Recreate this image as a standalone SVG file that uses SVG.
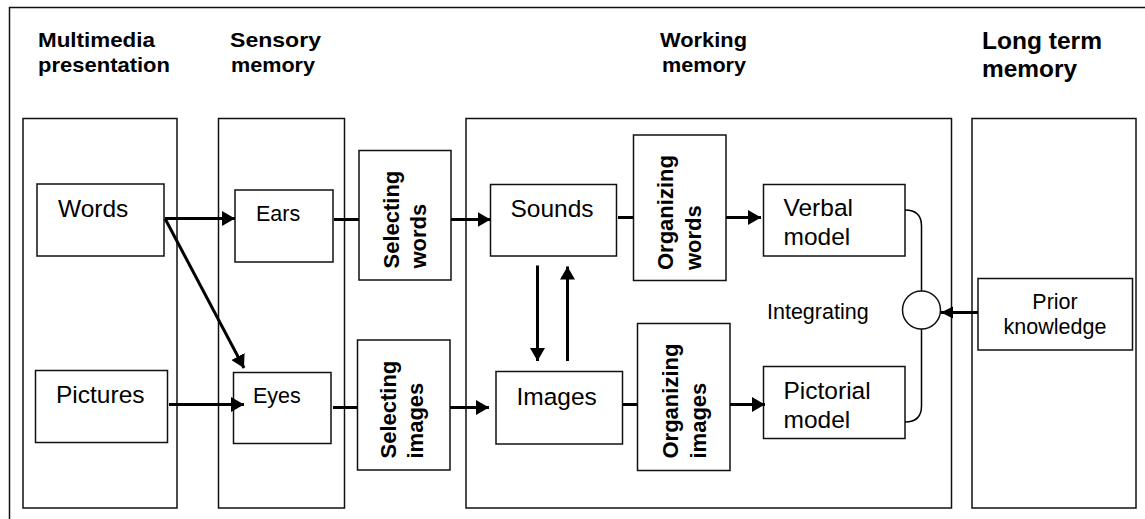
<svg xmlns="http://www.w3.org/2000/svg" width="1145" height="519" viewBox="0 0 1145 519">
<style>
.box{fill:#fff;stroke:#111;stroke-width:1.5}
.col{fill:none;stroke:#111;stroke-width:1.5}
.h{font-family:"Liberation Sans",Arial,sans-serif;font-weight:bold;font-size:21px;fill:#000}
.hl{font-family:"Liberation Sans",Arial,sans-serif;font-weight:bold;font-size:24px;fill:#000}
.t{font-family:"Liberation Sans",Arial,sans-serif;font-size:24.5px;fill:#000}
.s{font-family:"Liberation Sans",Arial,sans-serif;font-size:21.5px;fill:#000}
.r{font-family:"Liberation Sans",Arial,sans-serif;font-weight:bold;font-size:22px;fill:#000}
.c{fill:none;stroke:#000;stroke-width:3}
.thin{fill:none;stroke:#000;stroke-width:1.5}
</style>
<defs>
<marker id="ah" markerUnits="userSpaceOnUse" markerWidth="15" markerHeight="15" viewBox="0 0 15 15" refX="13" refY="7.5" orient="auto">
<path d="M0,0 L13,7.5 L0,15 z" fill="#000"/>
</marker>
<marker id="ahs" markerUnits="userSpaceOnUse" markerWidth="13" markerHeight="13" viewBox="0 0 13 13" refX="12" refY="6.5" orient="auto">
<path d="M0,0.5 L12,6.5 L0,12.5 z" fill="#000"/>
</marker>
</defs>
<rect width="1145" height="519" fill="#fff"/>
<path d="M9.5,519 V7.5 H1145" class="col"/>

<g id="headings">
<text class="h" x="38" y="47" textLength="117" lengthAdjust="spacingAndGlyphs">Multimedia</text>
<text class="h" x="38" y="72" textLength="132" lengthAdjust="spacingAndGlyphs">presentation</text>
<text class="h" x="230" y="47" textLength="91" lengthAdjust="spacingAndGlyphs">Sensory</text>
<text class="h" x="231" y="72" textLength="84" lengthAdjust="spacingAndGlyphs">memory</text>
<text class="h" x="660" y="47" textLength="87" lengthAdjust="spacingAndGlyphs">Working</text>
<text class="h" x="662" y="72" textLength="84" lengthAdjust="spacingAndGlyphs">memory</text>
<text class="hl" x="982" y="49" textLength="120" lengthAdjust="spacingAndGlyphs">Long term</text>
<text class="hl" x="982" y="77" textLength="95" lengthAdjust="spacingAndGlyphs">memory</text>
</g>

<g id="columns">
<rect id="col-multimedia" class="col" x="23" y="118.5" width="154" height="389.5"/>
<rect id="col-sensory" class="col" x="218.5" y="118.5" width="126" height="389.5"/>
<rect id="col-working" class="col" x="466" y="118.5" width="485.5" height="389.5"/>
<rect id="col-longterm" class="col" x="972" y="118.5" width="164" height="389.5"/>
</g>

<g id="words">
<rect class="box" x="37" y="184" width="127" height="72"/>
<text class="t" x="58" y="216.5">Words</text>
</g>
<g id="pictures">
<rect class="box" x="35.5" y="370.5" width="132" height="72"/>
<text class="t" x="56" y="403">Pictures</text>
</g>
<g id="ears">
<rect class="box" x="235" y="190" width="98" height="72"/>
<text class="s" x="256" y="221">Ears</text>
</g>
<g id="eyes">
<rect class="box" x="233.5" y="372.5" width="97.5" height="71"/>
<text class="s" x="253" y="402.5">Eyes</text>
</g>
<g id="selecting-words">
<rect class="box" x="359" y="150.5" width="92" height="129.5"/>
<text class="r" transform="translate(398.5,268.5) rotate(-90)"><tspan x="0" y="0">Selecting</tspan><tspan x="0" y="27">words</tspan></text>
</g>
<g id="selecting-images">
<rect class="box" x="357.5" y="340" width="92.5" height="130"/>
<text class="r" transform="translate(396,458.5) rotate(-90)"><tspan x="0" y="0">Selecting</tspan><tspan x="0" y="27">images</tspan></text>
</g>
<g id="sounds">
<rect class="box" x="490.5" y="184.5" width="126" height="71.5"/>
<text class="t" x="510.5" y="216.5">Sounds</text>
</g>
<g id="images">
<rect class="box" x="496" y="371.5" width="126.5" height="72.5"/>
<text class="t" x="516.5" y="405">Images</text>
</g>
<g id="organizing-words">
<rect class="box" x="633.5" y="135" width="92.5" height="145.5"/>
<text class="r" transform="translate(673,270) rotate(-90)"><tspan x="0" y="0">Organizing</tspan><tspan x="0" y="27.5">words</tspan></text>
</g>
<g id="organizing-images">
<rect class="box" x="637.5" y="323.5" width="92.5" height="147"/>
<text class="r" transform="translate(678,458.5) rotate(-90)"><tspan x="0" y="0">Organizing</tspan><tspan x="0" y="27.5">images</tspan></text>
</g>
<g id="verbal-model">
<rect class="box" x="763.5" y="184.5" width="141.5" height="71.5"/>
<text class="t" x="783.5" y="216">Verbal</text>
<text class="t" x="783.5" y="245">model</text>
</g>
<g id="pictorial-model">
<rect class="box" x="763.5" y="366.5" width="141.5" height="72"/>
<text class="t" x="783.5" y="399">Pictorial</text>
<text class="t" x="783.5" y="428">model</text>
</g>
<g id="integrating">
<text class="s" x="767" y="319">Integrating</text>
<circle cx="921.5" cy="310" r="19" fill="#fff" stroke="#111" stroke-width="1.5"/>
</g>
<g id="prior-knowledge">
<rect class="box" x="978" y="278.5" width="154.5" height="71.5"/>
<text class="s" x="1055" y="308.5" text-anchor="middle">Prior</text>
<text class="s" x="1055" y="333.5" text-anchor="middle">knowledge</text>
</g>

<g id="connectors">
<line class="c" x1="165" y1="218.5" x2="235" y2="218.5" marker-end="url(#ah)"/>
<line class="c" x1="165" y1="218.5" x2="244" y2="368" marker-end="url(#ah)"/>
<line class="c" x1="169" y1="404.5" x2="244" y2="404.5" marker-end="url(#ah)"/>
<line class="c" x1="334" y1="219.5" x2="359" y2="219.5"/>
<line class="c" x1="451" y1="219.5" x2="490.5" y2="219.5" marker-end="url(#ah)"/>
<line class="c" x1="333" y1="407.5" x2="357" y2="407.5"/>
<line class="c" x1="450" y1="407.5" x2="489" y2="407.5" marker-end="url(#ah)"/>
<line class="c" x1="618" y1="217.5" x2="633" y2="217.5"/>
<line class="c" x1="726" y1="217.5" x2="761" y2="217.5" marker-end="url(#ah)"/>
<line class="c" x1="623" y1="404.5" x2="637" y2="404.5"/>
<line class="c" x1="730" y1="404.5" x2="765" y2="404.5" marker-end="url(#ah)"/>
<line class="c" x1="537.5" y1="265.5" x2="537.5" y2="361" marker-end="url(#ah)"/>
<line class="c" x1="567.5" y1="361" x2="567.5" y2="266.5" marker-end="url(#ah)"/>
<path class="thin" d="M905,210 Q921.5,210 921.5,226 V291"/>
<path class="thin" d="M921.5,329 V406 Q921.5,422 905,422"/>
<line class="c" x1="978" y1="312.5" x2="941" y2="312.5" marker-end="url(#ahs)"/>
</g>
</svg>
